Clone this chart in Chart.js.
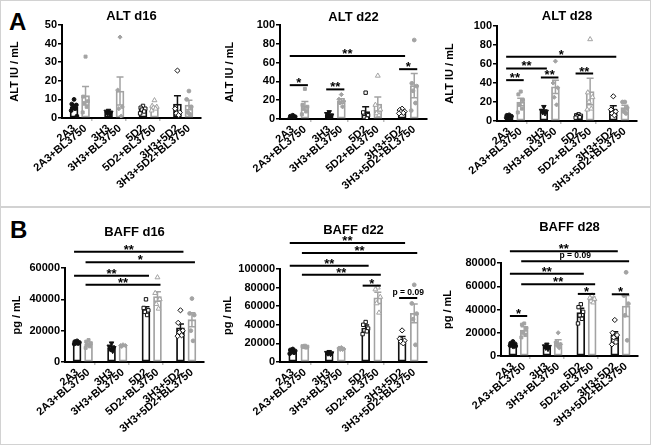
<!DOCTYPE html>
<html>
<head>
<meta charset="utf-8">
<script src="https://cdn.jsdelivr.net/npm/chart.js@4.4.1/dist/chart.umd.min.js"></script>
<style>
  body { margin: 0; background: #fff; width: 652px; height: 446px; position: relative; overflow: hidden; }
  .box { position: absolute; border: 1px solid #d2d2d2; }
  canvas { position: absolute; }
  .lab { position: absolute; font: bold 24px "Liberation Sans", Arial, sans-serif; line-height: 24px; color: #000; }
</style>
</head>
<body>
<div class="box" style="left:0;top:0;width:649px;height:205px"></div>
<div class="box" style="left:0;top:207px;width:649px;height:236px"></div>
<div class="lab" style="left:9px;top:10px">A</div>
<div class="lab" style="left:10px;top:218px">B</div>
<canvas id="altD16" width="207" height="204" style="left:4px;top:2px"></canvas>
<canvas id="altD22" width="219" height="204" style="left:218px;top:2px"></canvas>
<canvas id="altD28" width="209" height="204" style="left:438px;top:2px"></canvas>
<canvas id="baffD16" width="210" height="234" style="left:4px;top:209px"></canvas>
<canvas id="baffD22" width="219" height="234" style="left:218px;top:209px"></canvas>
<canvas id="baffD28" width="210" height="234" style="left:438px;top:209px"></canvas>
<script>
// groupes (les vides sont les espaces entre les paires)
const groups = ['2A3', '2A3+BL3750', '', '3H3', '3H3+BL3750', '', '5D2', '5D2+BL3750', '', '3H3+5D2', '3H3+5D2+BL3750'];

// ALT d16
const altD16Mean = [6, 12, null, 3, 14.5, null, 4.5, 5.5, null, 7.5, 7];
const altD16Sem = [1.3, 5, null, 0.5, 7.5, null, 0.6, 0.8, null, 4.5, 2.5];
const altD16Pts = [[10, 7.5, 7, 6, 5, 4, 1], [33, 11.5, 9, 8, 6, 3], [], [4, 3.5, 3, 2.5, 2], [43.5, 15, 6, 5, 1], [],
  [6.5, 5.5, 5, 4.5, 3.5, 2.5], [9.5, 6.5, 6, 5.5, 5, 4], [], [25.5, 5, 3, 2.5, 1.5], [14.5, 10, 6, 3, 2]];
const altD16Sig = [];

// ALT d22
const altD22Mean = [2, 14, null, 4, 19, null, 8, 16, null, 8, 35.5];
const altD22Sem = [0.6, 4.5, null, 1, 2.5, null, 5, 7.5, null, 1, 13];
const altD22Pts = [[4, 3, 2.5, 1.5, 1, 0.5], [32, 15, 13, 11, 8, 5], [], [7.5, 5.5, 4, 2.5, 1], [26, 21, 19, 17, 13], [],
  [28, 7, 4, 2, 0.5], [46, 15, 10, 6, 4], [], [11, 9.5, 8, 7.5, 6.5, 6], [84, 38, 35, 30, 17, 9]];
const altD22Sig = [[0, 9, 67, '**'], [0, 1, 36, '*'], [3, 4, 31.5, '**'], [9, 10, 53, '*']];

// ALT d28
const altD28Mean = [5, 20, null, 10.5, 36, null, 5, 31, null, 12.5, 14];
const altD28Sem = [0.7, 4, null, 1, 7, null, 0.5, 14, null, 3.5, 2.5];
const altD28Pts = [[6.5, 6, 5, 4.5, 4, 3.5], [31, 28, 22, 17, 13, 9], [], [15, 11, 10, 9, 8], [63, 40, 35, 25, 17], [],
  [7, 6, 5.5, 5, 4, 3.5], [86, 30, 25, 20, 13, 12], [], [26, 12, 10, 8, 6], [20, 20, 14, 10, 8]];
const altD28Sig = [[0, 9, 67.6, '*'], [0, 3, 55.3, '**'], [0, 1, 43, '**'], [3, 4, 45.8, '**'], [6, 7, 50, '**']];

// BAFF d16
const baffD16Mean = [12400, 11400, null, 9200, 10500, null, 33800, 41800, null, 21800, 27000];
const baffD16Sem = [500, 800, null, 1000, 300, null, 1500, 3000, null, 2500, 4500];
const baffD16Pts = [[13500, 13000, 12500, 12000, 11800, 11500], [14000, 13000, 12000, 11000, 10000, 9000], [],
  [12000, 10000, 9000, 8000, 7000], [11000, 10500, 10500, 10000], [],
  [40000, 34500, 33000, 32000, 30000], [54000, 44000, 40000, 37000, 34000], [],
  [33000, 25000, 20000, 19000, 17000, 16500], [40500, 31000, 30000, 20000, 13500]];
const baffD16Sig = [[0, 9, 70300, '**'], [1, 10, 63600, '*'], [0, 6, 55000, '**'], [1, 7, 49300, '**']];

// BAFF d22
const baffD22Mean = [11500, 16500, null, 9700, 14300, null, 36200, 69000, null, 24700, 52300];
const baffD22Sem = [700, 500, null, 800, 600, null, 3500, 6000, null, 2800, 10000];
const baffD22Pts = [[14000, 13000, 12000, 11000, 10000, 9000], [17500, 17000, 16500, 16000, 15500], [],
  [11000, 10000, 9500, 9000, 8500], [15500, 15000, 14000, 13500, 13500], [],
  [43000, 40000, 36000, 34000, 33000, 30000], [80000, 78000, 70000, 63000, 53000], [],
  [34000, 25000, 23000, 22000, 20000], [83000, 63000, 52000, 46000, 18500]];
const baffD22Sig = [[0, 9, 128000, '**'], [1, 10, 117200, '**'], [0, 6, 103600, '**'], [1, 7, 93900, '**'],
  [6, 7, 82100, '*'], [9, 10, 68800, 'p = 0.09']];

// BAFF d28
const baffD28Mean = [9800, 22200, null, 7800, 11600, null, 37300, 48800, null, 17900, 43000];
const baffD28Sem = [500, 2900, null, 900, 2400, null, 3700, 2000, null, 2900, 9000];
const baffD28Pts = [[12500, 11000, 10500, 10000, 9500, 9000, 8500, 8000], [28000, 27000, 24000, 20000, 18000, 16000], [],
  [10000, 8500, 8000, 7000, 6000], [20000, 12000, 10000, 9000, 7000], [],
  [44500, 42000, 38000, 35000, 32000, 28000], [52000, 50000, 49000, 47000, 46000], [],
  [31000, 20000, 18000, 16000, 12000, 10000], [72000, 52000, 45000, 35000, 13500]];
const baffD28Sig = [[0, 9, 90100, '**'], [1, 10, 81400, 'p = 0.09'], [0, 6, 70800, '**'], [1, 7, 61800, '**'],
  [0, 1, 34400, '*'], [6, 7, 53400, '*'], [9, 10, 53100, '*']];

const FONT = '"Liberation Sans", Arial, sans-serif';
const BLACK = '#111';
const GRAY = '#a3a3a3';

// symboles de chaque groupe
const markers = [
  { s: 'circle', r: 1.9, fill: BLACK, line: BLACK },
  { s: 'rect', r: 2.1, fill: GRAY, line: GRAY },
  null,
  { s: 'triangle', r: 2.6, rot: 180, fill: BLACK, line: BLACK },
  { s: 'rectRot', r: 2.1, fill: GRAY, line: GRAY },
  null,
  { s: 'rect', r: 2.4, fill: '#fff', line: BLACK },
  { s: 'triangle', r: 2.8, fill: '#fff', line: GRAY },
  null,
  { s: 'rectRot', r: 2.6, fill: '#fff', line: BLACK },
  { s: 'circle', r: 1.9, fill: GRAY, line: GRAY }
];
const jit = [0, -0.2, 0.2, -0.1, 0.1, -0.25, 0.25, 0.05];

function colorOf(i) { return i % 3 === 0 ? BLACK : GRAY; }

function makeChart(id, p) {
  const datasets = [];
  const barData = [];
  const barColors = [];
  p.mean.forEach((m, i) => {
    if (m == null) return;
    barData.push({ x: i, y: m });
    barColors.push(colorOf(i));
  });
  datasets.push({
    type: 'bar', order: 10, data: barData,
    backgroundColor: '#fff', borderColor: barColors, borderWidth: 1.8,
    barThickness: 8, borderSkipped: false
  });
  p.pts.forEach((arr, i) => {
    if (!arr.length) return;
    const mk = markers[i];
    datasets.push({
      type: 'scatter', order: 1,
      data: arr.map((v, k) => ({ x: i + jit[k % jit.length], y: v })),
      pointStyle: mk.s, pointRadius: mk.r, rotation: mk.rot || 0,
      backgroundColor: mk.fill, borderColor: mk.line, borderWidth: 1
    });
  });

  const deco = {
    id: 'deco',
    afterDatasetDraw(chart, args) {
      if (args.index !== 0) return;
      const ctx = chart.ctx, xs = chart.scales.x, ys = chart.scales.y;
      ctx.save();
      ctx.lineWidth = 1.5;
      p.mean.forEach((m, i) => {
        if (m == null) return;
        const x = xs.getPixelForValue(i);
        const y1 = ys.getPixelForValue(m + p.sem[i]);
        const y2 = ys.getPixelForValue(Math.max(0, m - p.sem[i]));
        ctx.strokeStyle = colorOf(i);
        ctx.beginPath();
        ctx.moveTo(x, y1); ctx.lineTo(x, y2);
        ctx.moveTo(x - 3.5, y1); ctx.lineTo(x + 3.5, y1);
        ctx.moveTo(x - 3.5, y2); ctx.lineTo(x + 3.5, y2);
        ctx.stroke();
      });
      ctx.restore();
    },
    afterDraw(chart) {
      const ctx = chart.ctx, xs = chart.scales.x, ys = chart.scales.y, a = chart.chartArea;
      ctx.save();
      ctx.fillStyle = '#000';
      // titre
      ctx.font = 'bold 13px ' + FONT;
      ctx.textAlign = 'center';
      ctx.textBaseline = 'alphabetic';
      ctx.fillText(p.title, (a.left + a.right) / 2, p.titleY);
      // titre de l'axe y
      ctx.save();
      ctx.translate(p.ytX, (a.top + a.bottom) / 2);
      ctx.rotate(-Math.PI / 2);
      ctx.font = 'bold 11px ' + FONT;
      ctx.textBaseline = 'middle';
      ctx.fillText(p.yTitle, 0, 0);
      ctx.restore();
      // barres de significativité
      ctx.strokeStyle = '#000';
      ctx.lineWidth = 2;
      p.sig.forEach(([from, to, v, label]) => {
        const x1 = xs.getPixelForValue(from) - 3;
        const x2 = xs.getPixelForValue(to) + 3;
        const y = ys.getPixelForValue(v);
        ctx.beginPath();
        ctx.moveTo(x1, y); ctx.lineTo(x2, y);
        ctx.stroke();
        if (label[0] === '*') {
          ctx.font = 'bold 13px ' + FONT;
          ctx.fillText(label, (x1 + x2) / 2, y + 2);
        } else {
          ctx.font = 'bold 8.5px ' + FONT;
          ctx.fillText(label, (x1 + x2) / 2, y - 3);
        }
      });
      ctx.restore();
    }
  };

  new Chart(document.getElementById(id), {
    type: 'bar',
    data: { datasets },
    options: {
      responsive: false,
      animation: false,
      events: [],
      layout: { padding: { top: p.pT, right: 10, left: 0, bottom: 0 } },
      plugins: { legend: { display: false }, tooltip: { enabled: false } },
      scales: {
        x: {
          type: 'linear', min: -0.5, max: 10.5,
          afterBuildTicks: s => { s.ticks = groups.map((g, i) => ({ value: i })); },
          afterFit: s => { s.height = p.xH; },
          ticks: {
            autoSkip: false, minRotation: 40, maxRotation: 40, padding: 1,
            callback: v => groups[v],
            color: '#000', font: { family: FONT, size: 11, weight: 'bold' }
          },
          grid: {
            drawOnChartArea: false, tickLength: 3, lineWidth: 1.5,
            color: c => groups[c.index] === '' ? '#bbb' : 'rgba(0,0,0,0)'
          },
          border: { color: '#000', width: 2 }
        },
        y: {
          min: 0, max: p.max,
          afterFit: s => { s.width = p.yW; },
          ticks: {
            stepSize: p.step, padding: 1,
            callback: v => String(v),
            color: '#000', font: { family: FONT, size: 11, weight: 'bold' }
          },
          grid: { drawOnChartArea: false, tickLength: 4, lineWidth: 1.5, color: '#000' },
          border: { color: '#000', width: 2 }
        }
      }
    },
    plugins: [deco]
  });
}

makeChart('altD16', { mean: altD16Mean, sem: altD16Sem, pts: altD16Pts, sig: altD16Sig, title: 'ALT d16', yTitle: 'ALT IU / mL',
  max: 50, step: 10, yW: 58, pT: 23, xH: 88, titleY: 17.5, ytX: 11 });
makeChart('altD22', { mean: altD22Mean, sem: altD22Sem, pts: altD22Pts, sig: altD22Sig, title: 'ALT d22', yTitle: 'ALT IU / mL',
  max: 100, step: 20, yW: 62, pT: 23, xH: 87, titleY: 18.5, ytX: 12 });
makeChart('altD28', { mean: altD28Mean, sem: altD28Sem, pts: altD28Pts, sig: altD28Sig, title: 'ALT d28', yTitle: 'ALT IU / mL',
  max: 100, step: 20, yW: 59, pT: 24, xH: 85, titleY: 18, ytX: 12 });
makeChart('baffD16', { mean: baffD16Mean, sem: baffD16Sem, pts: baffD16Pts, sig: baffD16Sig, title: 'BAFF d16', yTitle: 'pg / mL',
  max: 60000, step: 20000, yW: 61, pT: 59, xH: 81, titleY: 27, ytX: 13 });
makeChart('baffD22', { mean: baffD22Mean, sem: baffD22Sem, pts: baffD22Pts, sig: baffD22Sig, title: 'BAFF d22', yTitle: 'pg / mL',
  max: 100000, step: 20000, yW: 62, pT: 60, xH: 81, titleY: 25, ytX: 10 });
makeChart('baffD28', { mean: baffD28Mean, sem: baffD28Sem, pts: baffD28Pts, sig: baffD28Sig, title: 'BAFF d28', yTitle: 'pg / mL',
  max: 80000, step: 20000, yW: 63, pT: 54, xH: 87, titleY: 22, ytX: 10 });
</script>
</body>
</html>
